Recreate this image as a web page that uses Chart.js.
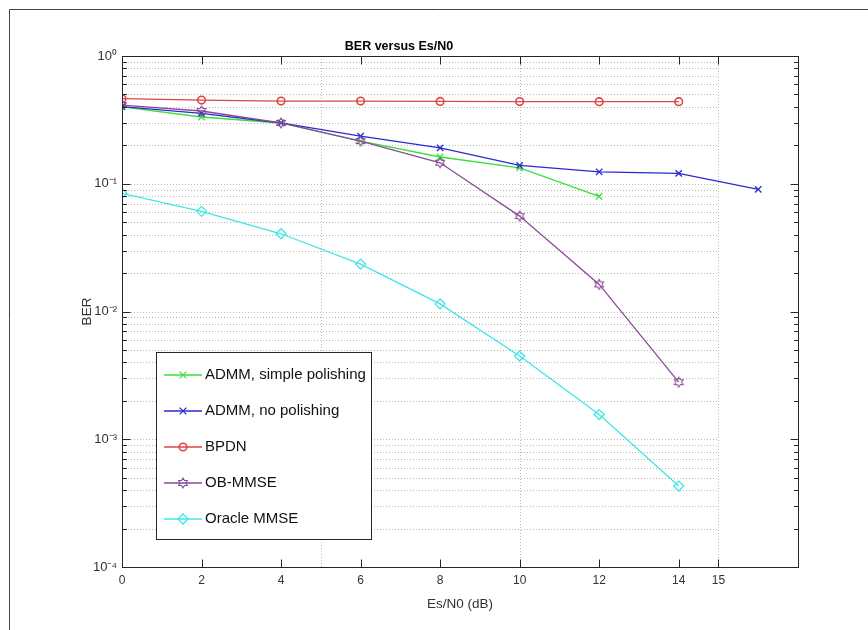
<!DOCTYPE html>
<html><head><meta charset="utf-8">
<script src="https://cdn.jsdelivr.net/npm/chart.js@4.4.1/dist/chart.umd.min.js"></script>
<style>html,body{margin:0;padding:0;background:#fff;}canvas{display:block;}</style>
</head><body>
<canvas id="c" width="868" height="630"></canvas>
<script>
// ---- data ----
const xTickValues = [0, 2, 4, 6, 8, 10, 12, 14, 15];
const xGridValues = [5, 10, 15];
const yTickValues = [1e-4, 1e-3, 1e-2, 1e-1, 1];
const yTickLabels = ['10⁻⁴', '10⁻³', '10⁻²', '10⁻¹', '10⁰'];
const seriesNames = ['ADMM, simple polishing', 'ADMM, no polishing', 'BPDN', 'OB-MMSE', 'Oracle MMSE'];
const snrAdmmSimple = [0, 2, 4, 6, 8, 10, 12];
const berAdmmSimple = [0.400, 0.333, 0.299, 0.216, 0.162, 0.133, 0.0796];
const snrAdmmNoPol = [0, 2, 4, 6, 8, 10, 12, 14, 16];
const berAdmmNoPol = [0.401, 0.356, 0.299, 0.236, 0.191, 0.139, 0.124, 0.1206, 0.0904];
const snrBpdn = [0, 2, 4, 6, 8, 10, 12, 14];
const berBpdn = [0.463, 0.452, 0.444, 0.444, 0.441, 0.440, 0.439, 0.439];
const snrObMmse = [0, 2, 4, 6, 8, 10, 12, 14];
const berObMmse = [0.413, 0.371, 0.299, 0.216, 0.146, 0.0558, 0.0163, 0.0028];
const snrOracle = [0, 2, 4, 6, 8, 10, 12, 14];
const berOracle = [0.084, 0.0608, 0.0406, 0.0235, 0.01148, 0.00448, 0.00156, 0.00043];

const FONT = "'Liberation Sans', Arial, Helvetica, sans-serif";
const AXIS_COLOR = '#262626';

function pts(xs, ys) { return xs.map((x, i) => ({ x: x, y: ys[i] })); }

function hexPath(g, cx, cy, r) {
  g.beginPath();
  for (let i = 0; i < 12; i++) {
    const a = -Math.PI / 2 + i * Math.PI / 6;
    const rr = (i % 2 === 0) ? r : r * 0.577;
    const px = cx + rr * Math.cos(a), py = cy + rr * Math.sin(a);
    if (i === 0) g.moveTo(px, py); else g.lineTo(px, py);
  }
  g.closePath();
}
function hexagramCanvas(color, r) {
  const s = Math.ceil(r * 2 + 4);
  const cv = document.createElement('canvas');
  cv.width = s; cv.height = s;
  const g = cv.getContext('2d');
  g.strokeStyle = color; g.lineWidth = 1.1;
  hexPath(g, s / 2, s / 2, r);
  g.stroke();
  return cv;
}

const colors = ['#38e038', '#2a2ad0', '#e04444', '#8b4a98', '#3fe6e6'];
const hexImg = hexagramCanvas(colors[3], 5);
const styles = ['crossRot', 'crossRot', 'circle', hexImg, 'rectRot'];
const radii = [4.5, 4.5, 3.8, 5, 5];
const xs = [snrAdmmSimple, snrAdmmNoPol, snrBpdn, snrObMmse, snrOracle];
const ys = [berAdmmSimple, berAdmmNoPol, berBpdn, berObMmse, berOracle];

const datasets = seriesNames.map((name, i) => ({
  label: name,
  data: pts(xs[i], ys[i]),
  borderColor: colors[i],
  backgroundColor: 'rgba(0,0,0,0)',
  borderWidth: 1.3,
  pointStyle: styles[i],
  pointRadius: radii[i],
  pointHoverRadius: radii[i],
  pointBorderColor: colors[i],
  pointBackgroundColor: 'rgba(0,0,0,0)',
  pointBorderWidth: i === 2 ? 1.6 : 1.3,
  tension: 0,
  fill: false,
  order: 5 - i
}));

function drawMarker(ctx, style, x, y, r, color) {
  ctx.save();
  ctx.strokeStyle = color; ctx.lineWidth = 1.3;
  if (style === 'crossRot') {
    const d = r * 0.75;
    ctx.beginPath();
    ctx.moveTo(x - d, y - d); ctx.lineTo(x + d, y + d);
    ctx.moveTo(x - d, y + d); ctx.lineTo(x + d, y - d);
    ctx.stroke();
  } else if (style === 'circle') {
    ctx.lineWidth = 1.6;
    ctx.beginPath(); ctx.arc(x, y, r, 0, Math.PI * 2); ctx.stroke();
  } else if (style === 'rectRot') {
    ctx.beginPath();
    ctx.moveTo(x, y - r); ctx.lineTo(x + r, y); ctx.lineTo(x, y + r); ctx.lineTo(x - r, y);
    ctx.closePath(); ctx.stroke();
  } else {
    ctx.lineWidth = 1.1;
    hexPath(ctx, x, y, r); ctx.stroke();
  }
  ctx.restore();
}

const matlabPlugin = {
  id: 'matlab',
  beforeDraw(chart) {
    const ctx = chart.ctx;
    ctx.save();
    ctx.fillStyle = '#fff';
    ctx.fillRect(0, 0, chart.width, chart.height);
    ctx.strokeStyle = '#444';
    ctx.lineWidth = 1;
    ctx.beginPath();
    ctx.moveTo(9.5, chart.height); ctx.lineTo(9.5, 9.5); ctx.lineTo(chart.width, 9.5);
    ctx.stroke();
    ctx.restore();
  },
  beforeDatasetsDraw(chart) {
    const ctx = chart.ctx, xS = chart.scales.x, yS = chart.scales.y, a = chart.chartArea;
    ctx.save();
    ctx.strokeStyle = '#b8b8b8';
    ctx.lineWidth = 1;
    ctx.setLineDash([1, 2]);
    const x0 = xS.getPixelForValue(0), x15 = xS.getPixelForValue(15);
    for (let k = -4; k <= 0; k++) {
      for (let m = 1; m <= 9; m++) {
        const v = m * Math.pow(10, k);
        if (v > 1) break;
        const py = Math.round(yS.getPixelForValue(v)) + 0.5;
        ctx.beginPath(); ctx.moveTo(x0, py); ctx.lineTo(x15, py); ctx.stroke();
      }
    }
    xGridValues.forEach(v => {
      const px = Math.round(xS.getPixelForValue(v)) + 0.5;
      ctx.beginPath(); ctx.moveTo(px, a.top); ctx.lineTo(px, a.bottom); ctx.stroke();
    });
    ctx.restore();
  },
  afterDatasetsDraw(chart) {
    const ctx = chart.ctx, xS = chart.scales.x, yS = chart.scales.y, a = chart.chartArea;
    ctx.save();
    ctx.strokeStyle = AXIS_COLOR;
    ctx.lineWidth = 1;
    const L = Math.round(a.left) + 0.5, R = Math.round(a.right) + 0.5;
    const T = Math.round(a.top) + 0.5, B = Math.round(a.bottom) + 0.5;
    ctx.strokeRect(L, T, R - L, B - T);
    ctx.beginPath();
    xTickValues.forEach(v => {
      const px = Math.round(xS.getPixelForValue(v)) + 0.5;
      ctx.moveTo(px, B); ctx.lineTo(px, B - 8);
      ctx.moveTo(px, T); ctx.lineTo(px, T + 8);
    });
    for (let k = -4; k <= 0; k++) {
      for (let m = 1; m <= 9; m++) {
        const v = m * Math.pow(10, k);
        if (v > 1) break;
        const len = (m === 1) ? 8 : 4.5;
        const py = Math.round(yS.getPixelForValue(v)) + 0.5;
        ctx.moveTo(L, py); ctx.lineTo(L + len, py);
        ctx.moveTo(R, py); ctx.lineTo(R - len, py);
      }
    }
    ctx.stroke();

    // legend
    const bx = 156.5, by = 352.5, bw = 215, bh = 187;
    ctx.fillStyle = '#fff';
    ctx.fillRect(bx, by, bw, bh);
    ctx.strokeStyle = AXIS_COLOR;
    ctx.strokeRect(bx, by, bw, bh);
    chart.data.datasets.forEach((ds, i) => {
      const yy = 375 + 36 * i;
      ctx.strokeStyle = ds.borderColor;
      ctx.lineWidth = 1.3;
      ctx.beginPath(); ctx.moveTo(164, yy); ctx.lineTo(202, yy); ctx.stroke();
      drawMarker(ctx, typeof ds.pointStyle === 'string' ? ds.pointStyle : 'hex', 183, yy, ds.pointRadius, ds.borderColor);
      ctx.fillStyle = '#111';
      ctx.font = '15px ' + FONT;
      ctx.textBaseline = 'middle';
      ctx.textAlign = 'left';
      ctx.fillText(ds.label, 205, yy);
    });
    ctx.restore();
  }
};

new Chart(document.getElementById('c'), {
  type: 'line',
  data: { datasets: datasets },
  plugins: [matlabPlugin],
  options: {
    responsive: false,
    animation: false,
    devicePixelRatio: 1,
    layout: { padding: { left: 0, right: 70, top: 0, bottom: 0 } },
    plugins: {
      legend: { display: false },
      tooltip: { enabled: false },
      title: {
        display: true,
        text: 'BER versus Es/N0',
        color: '#000',
        font: { family: FONT, size: 12.5, weight: 'bold' },
        padding: { top: 39, bottom: 2 }
      }
    },
    scales: {
      x: {
        type: 'linear',
        min: 0, max: 17,
        afterBuildTicks: s => { s.ticks = xTickValues.map(v => ({ value: v })); },
        afterFit: s => { s.height = 63; },
        grid: { display: false, drawTicks: false },
        border: { display: false },
        ticks: {
          autoSkip: false, maxRotation: 0, padding: 6,
          color: '#333', font: { family: FONT, size: 12 },
          callback: v => String(v)
        },
        title: {
          display: true, text: 'Es/N0 (dB)', color: '#333',
          font: { family: FONT, size: 13.5 },
          padding: { top: 0, bottom: 18 }
        }
      },
      y: {
        type: 'logarithmic',
        min: 1e-4, max: 1,
        afterBuildTicks: s => { s.ticks = yTickValues.map(v => ({ value: v })); },
        afterFit: s => { s.width = 122; },
        grid: { display: false, drawTicks: false },
        border: { display: false },
        ticks: {
          autoSkip: false, padding: 5,
          color: '#333', font: { family: FONT, size: 13 },
          callback: v => { const i = yTickValues.indexOf(v); return i >= 0 ? yTickLabels[i] : ''; }
        },
        title: {
          display: true, text: 'BER', color: '#333',
          font: { family: FONT, size: 13.5 },
          padding: { top: 79, bottom: 0 }
        }
      }
    }
  }
});
</script>
</body></html>
